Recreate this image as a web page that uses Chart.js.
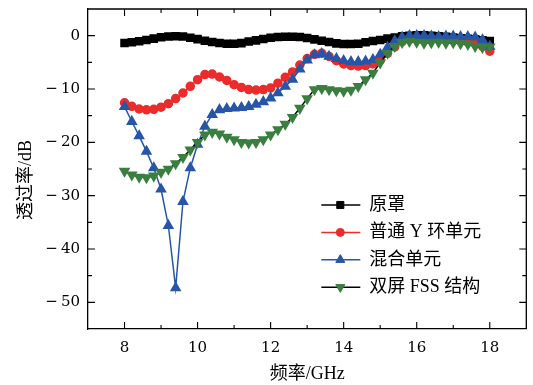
<!DOCTYPE html>
<html>
<head>
<meta charset="utf-8">
<script src="https://cdn.jsdelivr.net/npm/chart.js@4.4.0/dist/chart.umd.min.js"></script>
<style>
html, body { margin: 0; padding: 0; background: #fff; }
</style>
</head>
<body>
<canvas id="myChart" width="533" height="385"></canvas>
<script>
// frequency points (GHz)
const freq = [8.0, 8.2, 8.4, 8.6, 8.8, 9.0, 9.2, 9.4, 9.6, 9.8,
              10.0, 10.2, 10.4, 10.6, 10.8, 11.0, 11.2, 11.4, 11.6, 11.8,
              12.0, 12.2, 12.4, 12.6, 12.8, 13.0, 13.2, 13.4, 13.6, 13.8,
              14.0, 14.2, 14.4, 14.6, 14.8, 15.0, 15.2, 15.4, 15.6, 15.8,
              16.0, 16.2, 16.4, 16.6, 16.8, 17.0, 17.2, 17.4, 17.6, 17.8, 18.0];

// 原罩
const radome = [-1.37, -1.25, -1.06, -0.8, -0.56, -0.3, -0.15, -0.1, -0.15, -0.4,
                -0.65, -0.94, -1.2, -1.37, -1.5, -1.5, -1.4, -1.1, -0.88, -0.62,
                -0.4, -0.25, -0.19, -0.19, -0.25, -0.44, -0.69, -0.94, -1.19, -1.44,
                -1.56, -1.56, -1.5, -1.25, -1.0, -0.8, -0.55, -0.35, -0.1, 0.0,
                0.05, 0.05, 0.0, -0.1, -0.2, -0.35, -0.5, -0.6, -0.7, -0.85, -1.0];

// 普通 Y 环单元
const yRing = [-12.6, -13.25, -13.75, -13.9, -13.8, -13.4, -12.75, -11.8, -10.75, -9.5,
               -8.25, -7.3, -7.2, -7.75, -8.4, -9.2, -9.7, -10.1, -10.2, -10.1,
               -9.8, -8.9, -7.8, -6.8, -5.5, -4.3, -3.5, -3.3, -3.9, -4.7,
               -5.3, -5.6, -5.7, -5.6, -5.3, -4.6, -3.3, -2.1, -1.1, -0.7,
               -0.5, -0.5, -0.6, -0.7, -0.8, -0.9, -1.0, -1.2, -1.5, -2.0, -2.9];

// 混合单元
const hybrid = [-13.3, -16.1, -18.8, -21.7, -24.8, -28.8, -35.6, -47.3, -31.1, -24.8,
                -20.4, -17.0, -14.8, -13.9, -13.7, -13.6, -13.5, -13.3, -12.9, -12.4,
                -11.7, -10.75, -9.5, -8.2, -6.3, -4.6, -3.6, -3.4, -3.9, -4.3,
                -4.7, -4.9, -4.9, -4.8, -4.5, -3.5, -2.2, -1.0, -0.3, 0.0,
                0.0, 0.0, -0.1, -0.2, -0.1, -0.1, -0.2, -0.2, -0.3, -0.8, -2.0];

// 双屏 FSS 结构
const dualFss = [-25.4, -26.1, -26.5, -26.6, -26.3, -25.6, -25.0, -24.0, -22.8, -21.4,
                 -20.0, -18.6, -18.1, -18.4, -19.0, -19.5, -20.0, -20.1, -20.0, -19.5,
                 -18.6, -17.6, -16.6, -15.3, -13.6, -11.8, -10.1, -9.9, -10.1, -10.3,
                 -10.4, -10.2, -9.5, -8.25, -7.0, -5.1, -3.25, -2.0, -1.25, -1.06,
                 -1.2, -1.4, -1.3, -1.2, -1.4, -1.3, -1.5, -1.6, -2.0, -2.2, -2.1];

const seriesNames = ['原罩', '普通 Y 环单元', '混合单元', '双屏 FSS 结构'];
const xTicks = [8, 10, 12, 14, 16, 18];
const yTicks = [0, -10, -20, -30, -40, -50];
const yTickLabels = ['0', '\u2212\u200910', '\u2212\u200920', '\u2212\u200930', '\u2212\u200940', '\u2212\u200950'];

const FONT = "'Liberation Serif', 'Noto Sans CJK SC', serif";
const NUM_FONT = "'DejaVu Serif', serif";

function pts(arr) {
    return freq.map((f, i) => ({x: f, y: arr[i]}));
}

const ctx = document.getElementById('myChart').getContext('2d');

// axes box, inward ticks, y labels, y title and legend
const framePlugin = {
    id: 'frame',
    afterDraw(chart) {
        const c = chart.ctx;
        const a = chart.chartArea;
        const xs = chart.scales.x, ys = chart.scales.y;
        c.save();
        c.strokeStyle = '#000';
        c.lineWidth = 1.3;
        c.beginPath();
        c.moveTo(a.left, a.top); c.lineTo(a.right, a.top); c.lineTo(a.right, a.bottom);
        c.stroke();

        c.lineWidth = 1.1;
        c.beginPath();
        for (let v = 8; v <= 18; v++) {
            const px = xs.getPixelForValue(v);
            const len = (v % 2 === 0) ? 7 : 4;
            c.moveTo(px, a.bottom); c.lineTo(px, a.bottom - len);
            c.moveTo(px, a.top); c.lineTo(px, a.top + len);
        }
        for (let v = 0; v >= -50; v -= 5) {
            const py = ys.getPixelForValue(v);
            const len = (v % 10 === 0) ? 7 : 4;
            c.moveTo(a.left, py); c.lineTo(a.left + len, py);
            c.moveTo(a.right, py); c.lineTo(a.right - len, py);
        }
        c.stroke();

        // y tick labels
        c.fillStyle = '#000';
        c.font = "15px " + NUM_FONT;
        c.textAlign = 'right';
        c.textBaseline = 'middle';
        yTicks.forEach((v, i) => {
            c.fillText(yTickLabels[i], a.left - 8, Math.round(ys.getPixelForValue(v)));
        });

        // y title
        c.font = "18px " + FONT;
        c.textAlign = 'center';
        c.translate(26, 180);
        c.rotate(-Math.PI / 2);
        c.fillText('透过率/dB', 0, 0);
        c.restore();

        // legend
        c.save();
        const x0 = a.right - 205, x1 = a.right - 166, xm = a.right - 186, xt = a.right - 157;
        chart.data.datasets.forEach((ds, i) => {
            const y = a.top + 196 + i * 27.4;
            c.strokeStyle = ds.borderColor;
            c.lineWidth = ds.borderWidth;
            c.beginPath(); c.moveTo(x0, y); c.lineTo(x1, y); c.stroke();
            c.fillStyle = ds.pointBackgroundColor;
            c.strokeStyle = ds.pointBorderColor;
            c.lineWidth = 1;
            Chart.helpers.drawPoint(c, {
                pointStyle: ds.pointStyle,
                rotation: ds.pointRotation || 0,
                radius: ds.pointRadius,
                borderWidth: 1
            }, xm, y);
            c.fillStyle = '#000';
            c.font = "18px " + FONT;
            c.textAlign = 'left';
            c.textBaseline = 'middle';
            c.fillText(ds.label, xt, y);
        });
        c.restore();
    }
};

var myChart = new Chart(ctx, {
    type: 'line',
    data: {
        datasets: [{
            label: seriesNames[0],
            data: pts(radome),
            borderColor: '#000000',
            borderWidth: 1.5,
            pointStyle: 'rect',
            pointRadius: 5,
            pointBackgroundColor: '#000000',
            pointBorderColor: '#000000',
            order: 4
        }, {
            label: seriesNames[1],
            data: pts(yRing),
            borderColor: '#ec2b2b',
            borderWidth: 1.5,
            pointStyle: 'circle',
            pointRadius: 4,
            pointBackgroundColor: '#ec2b2b',
            pointBorderColor: '#ec2b2b',
            order: 3
        }, {
            label: seriesNames[2],
            data: pts(hybrid),
            borderColor: '#2756a8',
            borderWidth: 1.5,
            pointStyle: 'triangle',
            pointRadius: 5.2,
            pointBackgroundColor: '#2756a8',
            pointBorderColor: '#2756a8',
            order: 2
        }, {
            label: seriesNames[3],
            data: pts(dualFss),
            borderColor: '#000000',
            borderWidth: 1.5,
            pointStyle: 'triangle',
            pointRotation: 180,
            pointRadius: 5.2,
            pointBackgroundColor: '#3a7f3f',
            pointBorderColor: '#3a7f3f',
            order: 1
        }]
    },
    options: {
        responsive: false,
        animation: false,
        devicePixelRatio: 1,
        layout: { padding: { left: 0, right: 6, top: 9, bottom: 0 } },
        elements: { line: { tension: 0 } },
        plugins: {
            legend: { display: false },
            tooltip: { enabled: false }
        },
        scales: {
            x: {
                type: 'linear',
                min: 7,
                max: 19,
                grid: { display: false, drawTicks: false },
                border: { display: true, color: '#000', width: 1.3 },
                afterBuildTicks: (s) => { s.ticks = xTicks.map(v => ({value: v})); },
                ticks: {
                    color: '#000',
                    font: { family: NUM_FONT, size: 15 },
                    padding: 10,
                    maxRotation: 0,
                    autoSkip: false
                },
                title: {
                    display: true,
                    text: '频率/GHz',
                    color: '#000',
                    font: { family: FONT, size: 18 },
                    padding: { top: 0, bottom: 0 }
                },
                afterFit: (s) => { s.height = 56; s.paddingLeft = 0; s.paddingRight = 0; }
            },
            y: {
                type: 'linear',
                min: -55,
                max: 5,
                grid: { display: false, drawTicks: false },
                border: { display: true, color: '#000', width: 1.3 },
                afterBuildTicks: (s) => { s.ticks = yTicks.map(v => ({value: v})); },
                ticks: { display: false },
                afterFit: (s) => { s.width = 88; s.paddingTop = 0; s.paddingBottom = 0; }
            }
        }
    },
    plugins: [framePlugin]
});
</script>
</body>
</html>
